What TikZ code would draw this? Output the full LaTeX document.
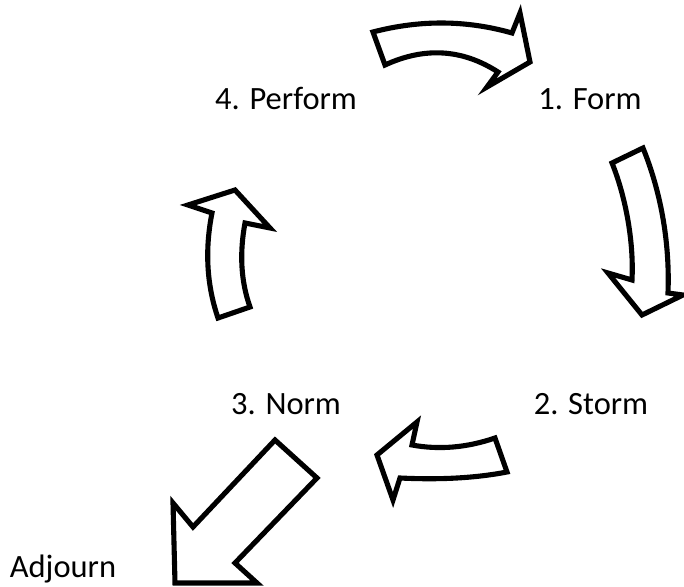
\documentclass[tikz,border=0pt]{standalone}
\usepackage{fontspec}
\setmainfont{Carlito}
\tikzset{stage/.style={anchor=base, inner sep=0pt, font=\fontsize{18.5}{22}\selectfont}}
\tikzset{block arrow/.style={draw=black, fill=white, line width=2.9pt, line join=miter}}

\begin{document}
\begin{tikzpicture}[x=0.02cm, y=-0.02cm]
    \useasboundingbox (0,0) rectangle (684,587);
    % the four stages
    \node[stage] (form)    at (590,110) {1. Form};
    \node[stage] (storm)   at (591,415) {2. Storm};
    \node[stage] (norm)    at (286,415) {3. Norm};
    \node[stage] (perform) at (286,110) {4. Perform};
    \node[stage] (adjourn) at (63,578)  {Adjourn};
    % curved arrows round the cycle
    \draw[block arrow] (373,32) .. controls (420,19.7) and (466.3,20) .. (512,33)
      -- (520,13) -- (530,62) -- (487,87) -- (498,72)
      .. controls (462.3,49) and (424.7,46.7) .. (385,65) -- cycle;
    \draw[block arrow] (643,148) .. controls (660,190) and (670,240) .. (668,293)
      -- (683,295) -- (642,315) -- (608,273) -- (632,280)
      .. controls (634,240) and (625,195) .. (612,163) -- cycle;
    \draw[block arrow] (495,438) .. controls (466.7,447.7) and (439,450) .. (412,445)
      -- (417,422) -- (377,455) -- (393,500) -- (400,478)
      .. controls (440.3,480) and (476,478) .. (507,472) -- cycle;
    \draw[block arrow] (218,318) .. controls (206.7,285) and (204.7,250) .. (212,213)
      -- (188,205) -- (235,190) -- (270,228) -- (245,223)
      .. controls (239.3,253.7) and (241,281.7) .. (250,307) -- cycle;
    % way out of the cycle
    \draw[block arrow] (275,440) -- (317,478) -- (235,563) -- (257,583)
      -- (175,583) -- (173,503) -- (193,527) -- cycle;
\end{tikzpicture}
\end{document}
